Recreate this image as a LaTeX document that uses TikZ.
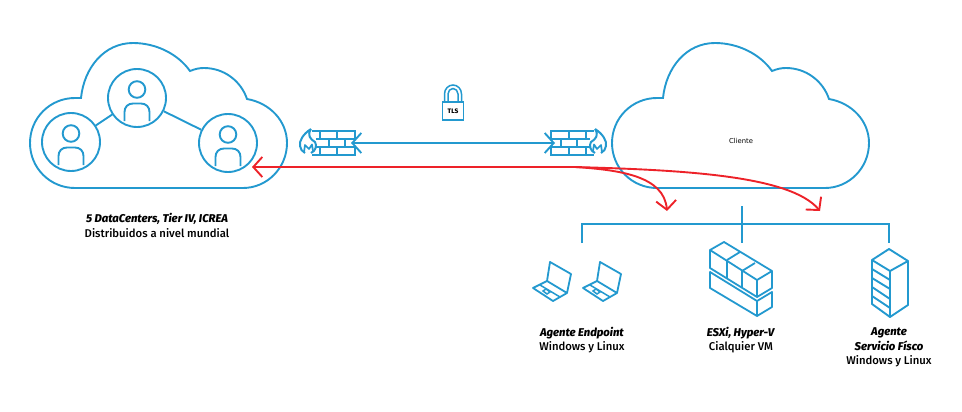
\documentclass[tikz,border=0pt]{standalone}
\usepackage{fontspec}
\setmainfont{Fira Sans}[UprightFont=* Medium,BoldItalicFont=* ExtraBold Italic]
\newfontfamily\cliefont{DejaVu Sans}
\usetikzlibrary{arrows.meta}
\definecolor{cblue}{HTML}{2399CF}
\definecolor{cred}{HTML}{ED2229}
\tikzset{
  x=1pt,y=-1pt,
  ln/.style={draw=cblue,line width=1.9pt,line join=miter},
  thin ln/.style={draw=cblue,line width=1.7pt,line join=miter},
  usercircle/.style={circle,draw=cblue,line width=1.9pt,minimum size=58pt,inner sep=0pt},
  redarrow/.style={draw=cred,line width=1.9pt,-{Straight Barb[length=9pt,width=20pt,line width=1.9pt]}},
  caption/.style={align=center,font=\fontsize{11.3}{14.6}\selectfont,text=black,inner sep=0pt},
  cloudpic/.pic={
    \draw[ln] (81,98) .. controls (84,68) and (104,43) .. (133,43)
      .. controls (156,43) and (178,54) .. (190,71)
      .. controls (195,69) and (199,68) .. (204,68)
      .. controls (224,68) and (241,81) .. (247,99)
      .. controls (270,103) and (287,121) .. (287,143)
      .. controls (287,168) and (267,188) .. (243,188)
      -- (75,188) .. controls (50,188) and (30,168) .. (30,143)
      .. controls (30,118) and (50,98) .. (75,98) -- cycle;
  },
  userpic/.pic={
    \draw[ln] (0,-8.5) circle[radius=8.3];
    \draw[ln] (-12.5,23) -- (-12.5,14) .. controls (-12.5,9) and (-9,5.5) .. (-4,5.5)
      -- (4,5.5) .. controls (9,5.5) and (12.5,9) .. (12.5,14) -- (12.5,23);
  },
  wallpic/.pic={
    \draw[thin ln] (312,131) -- (355,131) -- (355,139);
    \draw[thin ln] (355,147) -- (355,155) -- (312,155);
    \draw[thin ln] (316,139) -- (355,139) (316,147) -- (355,147);
    \draw[thin ln] (320,131) -- (320,139) (337,131) -- (337,139)
      (329,139) -- (329,147) (345,139) -- (345,147)
      (320,147) -- (320,155) (337,147) -- (337,155);
    \draw[ln,line width=2pt,line join=round] (311,129) .. controls (303,134) and (299,141) .. (300,146)
      .. controls (300.5,149) and (302,151.5) .. (305,153)
      (311,129) .. controls (307,135) and (310,139) .. (315,142)
      .. controls (317,145) and (316,151) .. (311,153);
    \draw[thin ln,line join=round] (304,152) -- (305,145) -- (309,149) -- (312,144.5) -- (313,151);
  },
  laptoppic/.pic={
    \draw[ln,line width=1.8pt,line join=round] (547,281) -- (550,262) -- (571,274) -- (567,293)
      -- (553,301) -- (533,288) -- (547,281) -- (567,293);
    \draw[ln,line width=1.5pt] (540,285) -- (560,297);
    \draw[ln,line width=1.5pt] (543,291) -- (546,289) -- (550,292) -- (547,294) -- cycle;
  }
}
\begin{document}
\begin{tikzpicture}
\useasboundingbox (0,0) rectangle (962,412);

% clouds
\pic {cloudpic};
\pic[shift={(582,0)}] {cloudpic};

% users
\node[usercircle] (ua) at (71,142) {};
\node[usercircle] (ub) at (137,98) {};
\node[usercircle] (uc) at (228,143) {};
\draw[ln] (ua) -- (ub);
\draw[ln] (ub) -- (uc);
\pic at (71,142) {userpic};
\pic at (137,98) {userpic};
\pic at (228,143) {userpic};

% lock
\draw[ln,line width=1.9pt] (442.5,102) rectangle (463.5,120);
\draw[ln,line width=1.5pt] (444.5,102) -- (444.5,94) .. controls (444.5,89) and (448.3,85) .. (453,85) .. controls (457.7,85) and (461.5,89) .. (461.5,94) -- (461.5,102);
\draw[ln,line width=1.5pt] (448,102) -- (448,94) .. controls (448,91) and (450.2,88.5) .. (453,88.5) .. controls (455.8,88.5) and (458,91) .. (458,94) -- (458,102);
\node[font=\bfseries\fontsize{6.5}{7}\selectfont,inner sep=0pt] (tls) at (453,111.5) {TLS};

% firewalls
\pic {wallpic};
\pic[xscale=-1,shift={(-906,0)}] {wallpic};
\coordinate (fwl) at (351,143);
\coordinate (fwr) at (555,143);
\draw[draw=cblue,line width=1.9pt,{Straight Barb[length=9pt,width=20pt,line width=1.9pt]}-{Straight Barb[length=9pt,width=20pt,line width=1.9pt]}] (fwl) -- (fwr);

% cliente
\node[font=\cliefont\fontsize{6.8}{8}\selectfont,inner sep=0pt] (cli) at (741,141) {Cliente};

% tree
\coordinate (tt) at (742,206);
\coordinate (tm) at (742,243);
\coordinate (tl) at (582,243);
\coordinate (tr) at (889,243);
\coordinate (tla) at (582,224);
\coordinate (tra) at (889,224);
\draw[ln] (tt) -- (tm);
\draw[ln] (tl) -- (tla) -- (tra) -- (tr);

% laptops
\pic {laptoppic};
\pic[shift={(50,0)}] {laptoppic};

% VM blocks
\begin{scope}[ln,line width=1.8pt,line join=round]
\draw (710,250) -- (724,242) -- (772,271) -- (757,280) -- cycle;
\draw (710,250) -- (710,268) -- (757,297) -- (772,288) -- (772,271);
\draw (757,280) -- (757,297);
\draw (727,260) -- (727,278);
\draw (727,260) -- (740,252);
\draw (742,271) -- (742,288);
\draw (742,271) -- (755,263);
\draw (710,272) -- (757,301) -- (772,292) -- (772,307) -- (757,316) -- (710,288) -- cycle;
\draw (757,301) -- (757,316);
\end{scope}

% server
\begin{scope}[ln,line width=1.9pt,line join=round]
\draw (872,260) -- (889,249) -- (908,261) -- (890,271) -- cycle;
\draw (872,260) -- (872,304) -- (890,317) -- (908,305) -- (908,261);
\draw (890,271) -- (890,317);
\draw (872,269) -- (890,280) (872,278) -- (890,289) (872,287) -- (890,299) (872,296) -- (890,308);
\end{scope}

% red arrows
\coordinate (rs) at (575,167);
\coordinate (rt) at (252,167);
\coordinate (ra) at (667,211);
\coordinate (rb) at (820,211);
\draw[redarrow] (rs) -- (rt);
\draw[redarrow] (rs) .. controls (620,170) and (664,176) .. (ra);
\draw[redarrow] (rs) .. controls (680,170) and (790,175) .. (rb);

% captions
\node[caption] (capa) at (157,225.5) {\textbf{\textit{5 DataCenters, Tier IV, ICREA}}\\Distribuidos a nivel mundial};
\node[caption] (capb) at (582,340) {\textbf{\textit{Agente Endpoint}}\\Windows y Linux};
\node[caption] (capc) at (741,340) {\textbf{\textit{ESXi, Hyper-V}}\\Cialquier VM};
\node[caption] (capd) at (889,347.5) {\textbf{\textit{Agente}}\\\textbf{\textit{Servicio Físco}}\\Windows y Linux};
\end{tikzpicture}
\end{document}
